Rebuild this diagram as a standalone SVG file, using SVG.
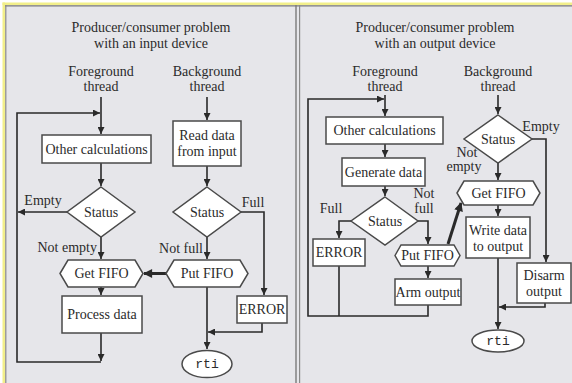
<svg xmlns="http://www.w3.org/2000/svg" width="572" height="383" viewBox="0 0 572 383">
<defs>
<marker id="ah" viewBox="0 0 10 10" refX="10" refY="5" markerWidth="8" markerHeight="7" markerUnits="userSpaceOnUse" orient="auto"><path d="M0,0 L10,5 L0,10 z" fill="#2a2a2a"/></marker>
<marker id="ahb" viewBox="0 0 10 10" refX="9" refY="5" markerWidth="11" markerHeight="9" markerUnits="userSpaceOnUse" orient="auto"><path d="M0,0 L10,5 L0,10 z" fill="#2a2a2a"/></marker>
</defs>
<style>
text{font-family:"Liberation Serif","Times New Roman",serif;font-size:14px;fill:#2b2b2b;text-anchor:middle}
.mono{font-family:"Liberation Mono","Courier New",monospace;font-size:13px}
.box{fill:#ffffff;stroke:#4a4a4a;stroke-width:1.5}
.ln{fill:none;stroke:#2a2a2a;stroke-width:1.6}
.ar{fill:none;stroke:#2a2a2a;stroke-width:1.6;marker-end:url(#ah)}
.thick{fill:none;stroke:#2a2a2a;stroke-width:3;marker-end:url(#ahb)}
.l{text-anchor:start}
.r{text-anchor:end}
</style>
<rect x="0" y="0" width="572" height="383" fill="#ffffff"/>
<rect x="5" y="5" width="567" height="378" fill="#e6e6ea"/>
<rect x="2.5" y="2.5" width="569.5" height="2.5" fill="#f2ef8a"/>
<rect x="2.5" y="2.5" width="2.5" height="380.5" fill="#f2ef8a"/>
<line x1="5" y1="5.8" x2="572" y2="5.8" stroke="#7a7a7a" stroke-width="1.2"/>
<line x1="5.8" y1="5" x2="5.8" y2="383" stroke="#8a8a8a" stroke-width="1.2"/>
<line x1="296" y1="5" x2="296" y2="383" stroke="#7a7a7a" stroke-width="1.4"/>
<line x1="299.6" y1="5" x2="299.6" y2="383" stroke="#8a8a8a" stroke-width="1.2"/>

<g id="left-titles">
<text x="151" y="32">Producer/consumer problem</text>
<text x="151" y="48">with an input device</text>
<text x="101" y="76">Foreground</text>
<text x="101" y="91">thread</text>
<text x="207" y="76">Background</text>
<text x="207" y="91">thread</text>
</g>
<g id="right-titles">
<text x="435" y="32">Producer/consumer problem</text>
<text x="435" y="48">with an output device</text>
<text x="385" y="76">Foreground</text>
<text x="385" y="91">thread</text>
<text x="498" y="76">Background</text>
<text x="498" y="91">thread</text>
</g>

<g id="connectors">
<!-- left foreground -->
<line class="ar" x1="101" y1="97" x2="101" y2="134"/>
<path class="ar" d="M101,362 H17 V113 H100"/>
<line class="ar" x1="101" y1="163" x2="101" y2="186"/>
<line class="ar" x1="68" y1="212" x2="18" y2="212"/>
<line class="ar" x1="101" y1="237" x2="101" y2="259"/>
<line class="ar" x1="101" y1="287" x2="101" y2="295"/>
<line class="ar" x1="101" y1="333" x2="101" y2="361"/>
<!-- left background -->
<line class="ar" x1="207" y1="97" x2="207" y2="120"/>
<line class="ar" x1="207" y1="166" x2="207" y2="186"/>
<path class="ar" d="M241,212 H264 V295"/>
<line class="ar" x1="207" y1="237" x2="207" y2="259"/>
<line class="thick" x1="166" y1="273.5" x2="144" y2="273.5"/>
<line class="ar" x1="207" y1="287" x2="207" y2="349"/>
<path class="ar" d="M262,323 V332 H208"/>
<!-- right foreground -->
<line class="ar" x1="385" y1="95" x2="385" y2="116"/>
<path class="ar" d="M428,305 V316 H308 V99 H384"/>
<line class="ln" x1="339" y1="266" x2="339" y2="316"/>
<line class="ar" x1="385" y1="144" x2="385" y2="157"/>
<line class="ar" x1="385" y1="186" x2="385" y2="196"/>
<path class="ar" d="M351,221 H339 V238"/>
<path class="ar" d="M418,221 H428 V244"/>
<line class="ar" x1="428" y1="266" x2="428" y2="278"/>
<line class="thick" x1="448" y1="244" x2="461" y2="203"/>
<!-- right background -->
<line class="ar" x1="498" y1="95" x2="498" y2="114"/>
<path class="ar" d="M532,139 H546 V262"/>
<line class="ar" x1="498" y1="163" x2="498" y2="180"/>
<line class="ar" x1="498" y1="205" x2="498" y2="216"/>
<line class="ar" x1="498" y1="258" x2="498" y2="329"/>
<path class="ar" d="M545,303 V307 H499"/>
</g>

<g id="l-other">
<rect class="box" x="42" y="135" width="109" height="28"/>
<text x="96.5" y="154">Other calculations</text>
</g>
<g id="l-status-fg">
<polygon class="box" points="101,187 135,212 101,237 67,212"/>
<text x="101" y="217">Status</text>
</g>
<g id="l-labels">
<text x="43" y="205">Empty</text>
<text class="r" x="97" y="252">Not empty</text>
<text x="253" y="207">Full</text>
<text class="r" x="203" y="253">Not full</text>
</g>
<g id="l-getfifo">
<polygon class="box" points="60,273.5 68,260 135,260 143,273.5 135,287 68,287"/>
<text x="101.5" y="278">Get FIFO</text>
</g>
<g id="l-process">
<rect class="box" x="62" y="296" width="80" height="37"/>
<text x="102" y="319">Process data</text>
</g>
<g id="l-read">
<rect class="box" x="173" y="121" width="68" height="45"/>
<text x="207" y="140">Read data</text>
<text x="207" y="156">from input</text>
</g>
<g id="l-status-bg">
<polygon class="box" points="207,187 241,212 207,237 173,212"/>
<text x="207" y="217">Status</text>
</g>
<g id="l-putfifo">
<polygon class="box" points="166,273.5 174,260 240,260 248,273.5 240,287 174,287"/>
<text x="207" y="278">Put FIFO</text>
</g>
<g id="l-error">
<rect class="box" x="237" y="296" width="50" height="27"/>
<text x="262" y="314">ERROR</text>
</g>
<g id="l-rti">
<ellipse class="box" cx="207" cy="364" rx="25" ry="13.5"/>
<text class="mono" x="207" y="368">rti</text>
</g>

<g id="r-other">
<rect class="box" x="326" y="117" width="117" height="27"/>
<text x="384.5" y="135">Other calculations</text>
</g>
<g id="r-generate">
<rect class="box" x="342" y="158" width="83" height="28"/>
<text x="383.5" y="177">Generate data</text>
</g>
<g id="r-status-fg">
<polygon class="box" points="385,197 418,221 385,245 351,221"/>
<text x="385" y="226">Status</text>
</g>
<g id="r-labels">
<text x="331" y="213">Full</text>
<text x="424" y="198">Not</text>
<text x="424" y="213">full</text>
<text x="541" y="131">Empty</text>
<text x="467" y="157">Not</text>
<text x="464" y="171">empty</text>
</g>
<g id="r-error">
<rect class="box" x="313" y="239" width="52" height="27"/>
<text x="339" y="257">ERROR</text>
</g>
<g id="r-putfifo">
<polygon class="box" points="395,255.5 401,245 454,245 460,255.5 454,266 401,266"/>
<text x="427.5" y="260">Put FIFO</text>
</g>
<g id="r-arm">
<rect class="box" x="395" y="279" width="66" height="26"/>
<text x="428" y="297">Arm output</text>
</g>
<g id="r-status-bg">
<polygon class="box" points="498,115 532,139 498,163 464,139"/>
<text x="498" y="144">Status</text>
</g>
<g id="r-getfifo">
<polygon class="box" points="457,193 464,181 533,181 540,193 533,205 464,205"/>
<text x="498.5" y="198">Get FIFO</text>
</g>
<g id="r-write">
<rect class="box" x="466" y="217" width="64" height="41"/>
<text x="498" y="235">Write data</text>
<text x="498" y="251">to output</text>
</g>
<g id="r-disarm">
<rect class="box" x="517" y="263" width="54" height="40"/>
<text x="544" y="280">Disarm</text>
<text x="544" y="296">output</text>
</g>
<g id="r-rti">
<ellipse class="box" cx="498" cy="341" rx="26" ry="11"/>
<text class="mono" x="498" y="345">rti</text>
</g>
</svg>
